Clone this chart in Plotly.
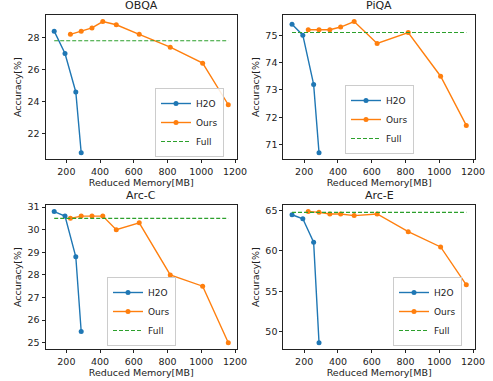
import plotly.graph_objects as go

# ---- data ----
h2o_mem = [128, 192, 256, 288]
ours_mem = [224, 288, 352, 416, 496, 632, 816, 1008, 1160]
full_mem = [128, 1160]

titles = ["OBQA", "PiQA", "Arc-C", "Arc-E"]

h2o_acc = {
    "OBQA": [28.4, 27.0, 24.6, 20.8],
    "PiQA": [75.4, 75.0, 73.2, 70.7],
    "Arc-C": [30.8, 30.6, 28.8, 25.5],
    "Arc-E": [64.5, 64.0, 61.1, 48.6],
}
ours_acc = {
    "OBQA": [28.2, 28.4, 28.6, 29.0, 28.8, 28.2, 27.4, 26.4, 23.8],
    "PiQA": [75.2, 75.2, 75.2, 75.3, 75.5, 74.7, 75.1, 73.5, 71.7],
    "Arc-C": [30.5, 30.6, 30.6, 30.6, 30.0, 30.3, 28.0, 27.5, 25.0],
    "Arc-E": [64.9, 64.8, 64.6, 64.6, 64.4, 64.6, 62.4, 60.5, 55.8],
}
full_acc = {"OBQA": 27.8, "PiQA": 75.1, "Arc-C": 30.5, "Arc-E": 64.8}

xticks = [200, 400, 600, 800, 1000, 1200]
yticks = {
    "OBQA": [22, 24, 26, 28],
    "PiQA": [71, 72, 73, 74, 75],
    "Arc-C": [25, 26, 27, 28, 29, 30, 31],
    "Arc-E": [50, 55, 60, 65],
}

# ---- layout geometry ----
W, H = 493, 381
xdom = [[45.5 / W, 237 / W], [283.3 / W, 475 / W]]
ydom = [[1 - 159.3 / H, 1 - 15 / H], [1 - 349.3 / H, 1 - 205 / H]]

C_H2O = "#1f77b4"
C_OURS = "#ff7f0e"
C_FULL = "#2ca02c"
FONT = "DejaVu Sans"

# legend positions: (x, y, xanchor)
leg_pos = [
    (224 / W, 1 - 157 / H, "right"),
    (379.5 / W, 1 - 154 / H, "center"),
    (141.5 / W, 1 - 346 / H, "center"),
    (462 / W, 1 - 346 / H, "right"),
]

fig = go.Figure()
layout = dict(
    width=W, height=H,
    margin=dict(l=0, r=0, t=0, b=0, autoexpand=False),
    paper_bgcolor="white", plot_bgcolor="white",
    font=dict(family=FONT, size=9, color="black"),
    showlegend=True,
    annotations=[],
)

def yrange(vals):
    lo, hi = min(vals), max(vals)
    m = (hi - lo) * 0.05
    return [lo - m, hi + m]

xr_lo, xr_hi = min(h2o_mem + ours_mem), max(h2o_mem + ours_mem)
xm = (xr_hi - xr_lo) * 0.05
xrange_ = [xr_lo - xm, xr_hi + xm]

for i, name in enumerate(titles):
    r, c = divmod(i, 2)
    ax = "" if i == 0 else str(i + 1)
    leg = "legend" if i == 0 else "legend%d" % (i + 1)
    fig.add_trace(go.Scatter(
        x=h2o_mem, y=h2o_acc[name], mode="lines+markers", name="H2O",
        line=dict(color=C_H2O, width=1.4), marker=dict(size=5, color=C_H2O),
        xaxis="x" + ax, yaxis="y" + ax, legend=leg))
    fig.add_trace(go.Scatter(
        x=ours_mem, y=ours_acc[name], mode="lines+markers", name="Ours",
        line=dict(color=C_OURS, width=1.4), marker=dict(size=5, color=C_OURS),
        xaxis="x" + ax, yaxis="y" + ax, legend=leg))
    fig.add_trace(go.Scatter(
        x=full_mem, y=[full_acc[name]] * 2, mode="lines", name="Full",
        line=dict(color=C_FULL, width=1.2, dash="4px,2px"),
        xaxis="x" + ax, yaxis="y" + ax, legend=leg))

    allv = h2o_acc[name] + ours_acc[name] + [full_acc[name]]
    common = dict(showgrid=False, zeroline=False, showline=True, mirror=True,
                  automargin=False,
                  linecolor="#222", linewidth=0.9, ticks="outside", ticklen=3,
                  tickwidth=0.8, tickcolor="#222",
                  tickfont=dict(family=FONT, size=9.5, color="#222"))
    layout["xaxis" + ax] = dict(
        domain=xdom[c], range=xrange_, tickvals=xticks,
        anchor="y" + ax,
        title=dict(text="Reduced Memory[MB]", standoff=3,
                   font=dict(family=FONT, size=9.5, color="#222")),
        **common)
    layout["yaxis" + ax] = dict(
        domain=ydom[r], range=yrange(allv), tickvals=yticks[name],
        anchor="x" + ax,
        title=dict(text="Accuracy[%]", standoff=4,
                   font=dict(family=FONT, size=9.5, color="#222")),
        **common)
    lx, ly, xa = leg_pos[i]
    layout[leg] = dict(
        x=lx, y=ly, xanchor=xa, yanchor="bottom",
        bgcolor="rgba(255,255,255,0.85)", bordercolor="#cccccc", borderwidth=1,
        font=dict(family=FONT, size=9, color="#222"),
        itemwidth=30, tracegroupgap=0)
    layout["annotations"].append(dict(
        text=name, xref="paper", yref="paper",
        x=(xdom[c][0] + xdom[c][1]) / 2, y=ydom[r][1],
        yshift=1, xanchor="center", yanchor="bottom", showarrow=False,
        font=dict(family=FONT, size=11, color="#222")))

fig.update_layout(**layout)
fig.write_html("out.html",
               config={"displayModeBar": False},
               post_script="document.body.style.margin='0px';"
                           "document.body.style.overflow='hidden';")
